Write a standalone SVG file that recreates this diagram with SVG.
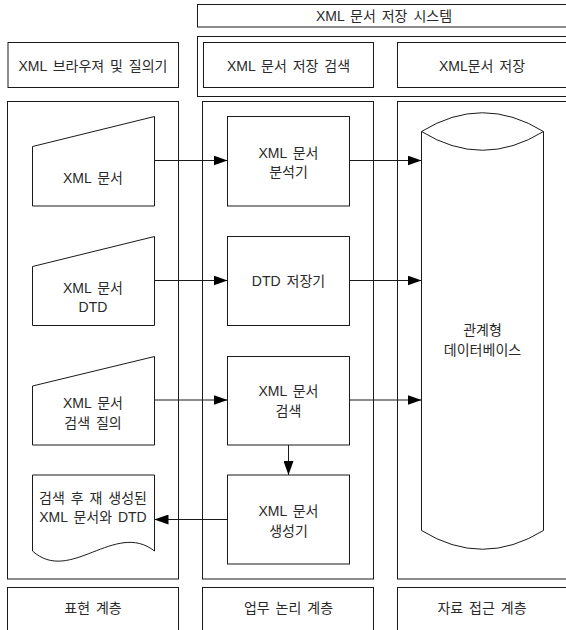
<svg xmlns="http://www.w3.org/2000/svg" width="566" height="630" viewBox="0 0 566 630">
<style>
.b{fill:#fff;stroke:#1a1a1a;stroke-width:1}
.c{fill:none;stroke:#1a1a1a;stroke-width:1}
text{font-family:"Liberation Sans","Noto Sans CJK KR",sans-serif;font-size:14px;word-spacing:2px;fill:#2a2a2a;text-anchor:middle;dominant-baseline:central}
</style>
<defs>
<marker id="ah" markerWidth="14" markerHeight="10" refX="14" refY="5" orient="auto" markerUnits="userSpaceOnUse">
<path d="M0,0 L14,5 L0,10 Z" fill="#000"/>
</marker>
</defs>
<g id="system-title"><rect class="b" x="197.5" y="4.5" width="375" height="22.5"/><text x="384" y="16">XML 문서 저장 시스템</text></g>
<g id="system-outer"><rect class="b" x="197.5" y="36.5" width="375" height="60"/></g>
<g id="browser"><rect class="b" x="8" y="42.5" width="170.5" height="45"/><text x="93" y="65.5">XML 브라우져 및 질의기</text></g>
<g id="store-search"><rect class="b" x="203.5" y="42.5" width="170" height="45"/><text x="288.5" y="65.5">XML 문서 저장 검색</text></g>
<g id="store"><rect class="b" x="397.5" y="42.5" width="172" height="45"/><text x="482" y="65.5">XML문서 저장</text></g>

<g id="col-presentation"><rect class="b" x="7.5" y="101.5" width="171" height="477.5"/></g>
<g id="col-business"><rect class="b" x="202.5" y="101.5" width="171" height="477.5"/></g>
<g id="col-data"><rect class="b" x="397.5" y="101.5" width="172" height="477.5"/></g>

<g id="in-doc"><polygon class="b" points="32.5,146.5 154.5,116.5 154.5,206 32.5,206"/><text x="93" y="178">XML 문서</text></g>
<g id="in-dtd"><polygon class="b" points="32.5,266.5 154.5,236.5 154.5,325.5 32.5,325.5"/><text x="93" y="288">XML 문서</text><text x="93" y="307">DTD</text></g>
<g id="in-query"><polygon class="b" points="32.5,386 154.5,356.5 154.5,445 32.5,445"/><text x="93" y="403">XML 문서</text><text x="93" y="422.5">검색 질의</text></g>
<g id="out-doc"><path class="b" d="M32.5,551 V475 H154.5 V551 C115,520 70,585 32.5,551 Z"/><text x="93" y="497.5">검색 후 재 생성된</text><text x="93" y="517">XML 문서와 DTD</text></g>

<g id="parser"><rect class="b" x="227.5" y="116.5" width="122" height="89.5"/><text x="288.5" y="152.5">XML 문서</text><text x="288.5" y="172">분석기</text></g>
<g id="dtd-store"><rect class="b" x="227.5" y="236.5" width="122" height="89"/><text x="288.5" y="281">DTD 저장기</text></g>
<g id="search"><rect class="b" x="227.5" y="356.5" width="122" height="88.5"/><text x="288.5" y="391">XML 문서</text><text x="288.5" y="411">검색</text></g>
<g id="generator"><rect class="b" x="227.5" y="475" width="122" height="89"/><text x="288.5" y="511">XML 문서</text><text x="288.5" y="530.5">생성기</text></g>

<g id="rdb"><path class="b" d="M421.5,131.5 V530.5 Q482.5,568 543.5,530.5 V131.5 Q482.5,94 421.5,131.5 Z"/><path class="c" d="M421.5,131.5 Q482.5,169 543.5,131.5"/><text x="482.5" y="330">관계형</text><text x="482.5" y="350">데이터베이스</text></g>

<g id="label-presentation"><rect class="b" x="7.5" y="587.5" width="171" height="50"/><text x="93" y="608">표현 계층</text></g>
<g id="label-business"><rect class="b" x="202.5" y="587.5" width="171" height="50"/><text x="288.5" y="607.5">업무 논리 계층</text></g>
<g id="label-data"><rect class="b" x="397.5" y="587.5" width="172" height="50"/><text x="482" y="607.5">자료 접근 계층</text></g>

<g id="connectors">
<line class="c" x1="154.5" y1="160.5" x2="227.5" y2="160.5" marker-end="url(#ah)"/>
<line class="c" x1="349.5" y1="160.5" x2="421.5" y2="160.5" marker-end="url(#ah)"/>
<line class="c" x1="154.5" y1="280.5" x2="227.5" y2="280.5" marker-end="url(#ah)"/>
<line class="c" x1="349.5" y1="280.5" x2="421.5" y2="280.5" marker-end="url(#ah)"/>
<line class="c" x1="154.5" y1="400" x2="227.5" y2="400" marker-end="url(#ah)"/>
<line class="c" x1="349.5" y1="400" x2="421.5" y2="400" marker-end="url(#ah)"/>
<line class="c" x1="288.5" y1="445" x2="288.5" y2="475" marker-end="url(#ah)"/>
<line class="c" x1="227.5" y1="519.5" x2="154.5" y2="519.5" marker-end="url(#ah)"/>
</g>
</svg>
